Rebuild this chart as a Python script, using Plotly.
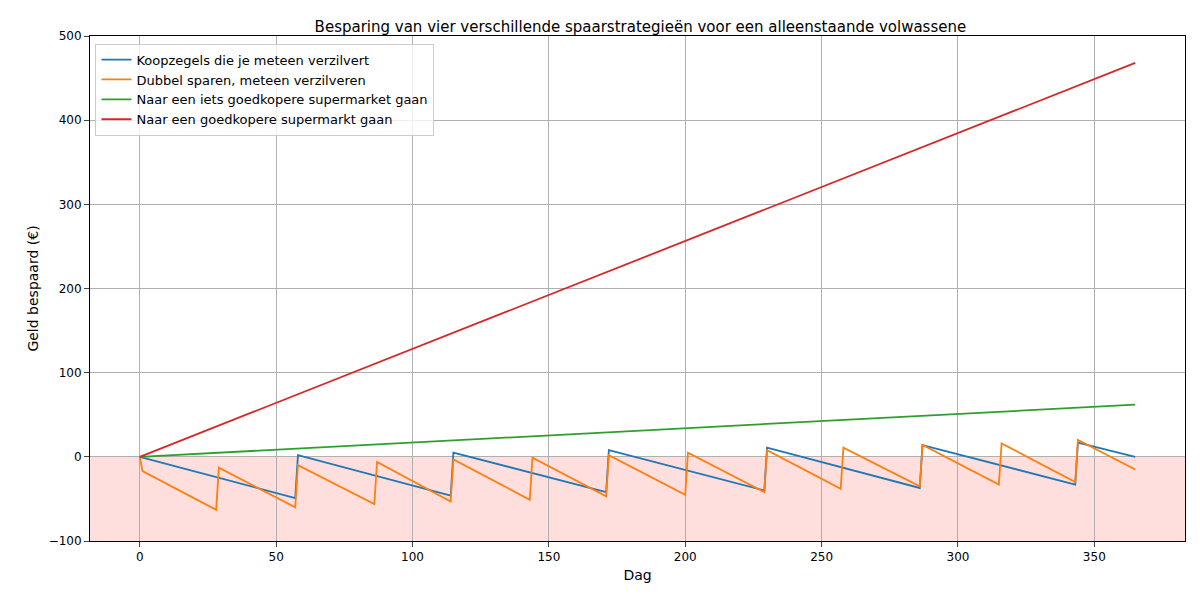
import plotly.graph_objects as go

# breakpoints (day, euro)
blue_days = [0, 57, 58, 114, 115, 171, 172, 229, 230, 286, 287, 343, 344, 365]
blue_vals = [0, -49, 2, -46, 5, -42, 8, -40, 11, -37, 14, -33, 17, 0]

orange_days = [0, 1, 28, 29, 57, 58, 86, 87, 114, 115, 143, 144, 171, 172,
               200, 201, 229, 230, 257, 258, 286, 287, 315, 316, 343, 344, 365]
orange_vals = [0, -17, -63, -13, -60, -10, -56, -6, -53, -3, -51, -1, -47, 2,
               -45, 5, -42, 8, -38, 11, -35, 14, -33, 16, -30, 20, -15]

green_days = [0, 365]
green_vals = [0, 62]

red_days = [0, 365]
red_vals = [0, 468]

names = ["Koopzegels die je meteen verzilvert",
         "Dubbel sparen, meteen verzilveren",
         "Naar een iets goedkopere supermarket gaan",
         "Naar een goedkopere supermarkt gaan"]
colors = ["#1f77b4", "#ff7f0e", "#2ca02c", "#d62728"]

fig = go.Figure()
for d, v, n, c in zip([blue_days, orange_days, green_days, red_days],
                      [blue_vals, orange_vals, green_vals, red_vals], names, colors):
    fig.add_trace(go.Scatter(x=d, y=v, mode="lines", name=n, line=dict(color=c, width=1.8)))

fig.add_shape(type="rect", xref="paper", yref="y", x0=0, x1=1, y0=-100, y1=0,
              fillcolor="rgba(255,0,0,0.13)", line_width=0, layer="below")

axis = dict(showline=True, linecolor="black", mirror=True, ticks="outside",
            showgrid=True, gridcolor="#b0b0b0", zeroline=False)
fig.update_layout(
    width=1200, height=600, plot_bgcolor="white", paper_bgcolor="white",
    margin=dict(l=82, r=23, t=28, b=67),
    font=dict(family="DejaVu Sans", size=12, color="black"),
    title=dict(text="Besparing van vier verschillende spaarstrategieën voor een alleenstaande volwassene",
               x=0.527, xanchor="center", y=0.978, font=dict(size=15)),
    xaxis=dict(axis, range=[-18.25, 383.25], tickvals=[0, 50, 100, 150, 200, 250, 300, 350],
               title=dict(text="Dag", standoff=6)),
    yaxis=dict(axis, range=[-100, 500], dtick=100, title=dict(text="Geld bespaard (€)", standoff=6)),
    legend=dict(x=0.005, y=0.985, xanchor="left", yanchor="top", bgcolor="rgba(255,255,255,0.8)",
                bordercolor="#cccccc", borderwidth=1, font=dict(size=13)),
)
fig.write_html("out.html")
